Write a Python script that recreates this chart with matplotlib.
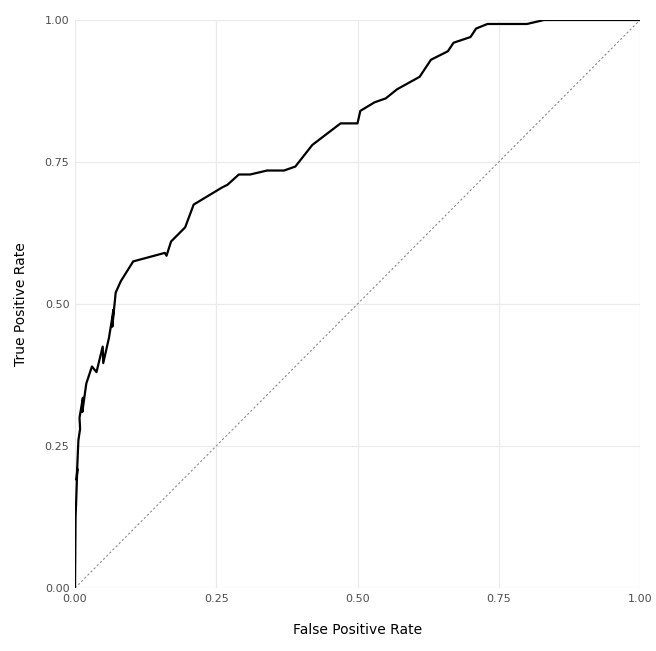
import matplotlib.pyplot as plt

# ROC curve points
fpr = [0.0, 0.001, 0.002, 0.004, 0.003, 0.006, 0.009, 0.008, 0.014, 0.013, 0.02, 0.03,
       0.038, 0.049, 0.05, 0.06, 0.065, 0.068, 0.066, 0.072, 0.081, 0.103, 0.159, 0.162,
       0.17, 0.195, 0.21, 0.26, 0.27, 0.29, 0.31, 0.34, 0.37, 0.39, 0.42, 0.47, 0.50,
       0.505, 0.53, 0.55, 0.57, 0.61, 0.63, 0.66, 0.67, 0.70, 0.71, 0.73, 0.80, 0.83, 1.0]
tpr = [0.0, 0.125, 0.15, 0.21, 0.19, 0.26, 0.28, 0.30, 0.335, 0.31, 0.36, 0.39,
       0.38, 0.425, 0.396, 0.44, 0.47, 0.49, 0.46, 0.52, 0.54, 0.575, 0.59, 0.585,
       0.61, 0.635, 0.675, 0.705, 0.71, 0.728, 0.728, 0.735, 0.735, 0.742, 0.78, 0.818, 0.818,
       0.84, 0.855, 0.862, 0.878, 0.90, 0.93, 0.945, 0.96, 0.97, 0.985, 0.993, 0.993, 1.0, 1.0]
ticks = [0.0, 0.25, 0.5, 0.75, 1.0]
tick_labels = ["0.00", "0.25", "0.50", "0.75", "1.00"]

fig = plt.figure(figsize=(6.56, 6.51), dpi=100)
ax = fig.add_axes([75 / 656, 1 - 588 / 651, 565 / 656, 568 / 651])

ax.plot([0, 1], [0, 1], linestyle=(0, (2, 2)), color="#8c8c8c", linewidth=0.8)
ax.plot(fpr, tpr, color="black", linewidth=1.6)

ax.set_xlim(0, 1)
ax.set_ylim(0, 1)
ax.set_xticks(ticks)
ax.set_xticklabels(tick_labels)
ax.set_yticks(ticks)
ax.set_yticklabels(tick_labels)
ax.tick_params(length=0, labelsize=8, labelcolor="#4d4d4d", pad=4)
for s in ax.spines.values():
    s.set_visible(False)
ax.grid(color="#ebebeb", linewidth=0.9)
ax.set_axisbelow(True)
ax.set_xlabel("False Positive Rate", fontsize=10, labelpad=14)
ax.set_ylabel("True Positive Rate", fontsize=10, labelpad=12)

plt.savefig("out.png", dpi=100)
